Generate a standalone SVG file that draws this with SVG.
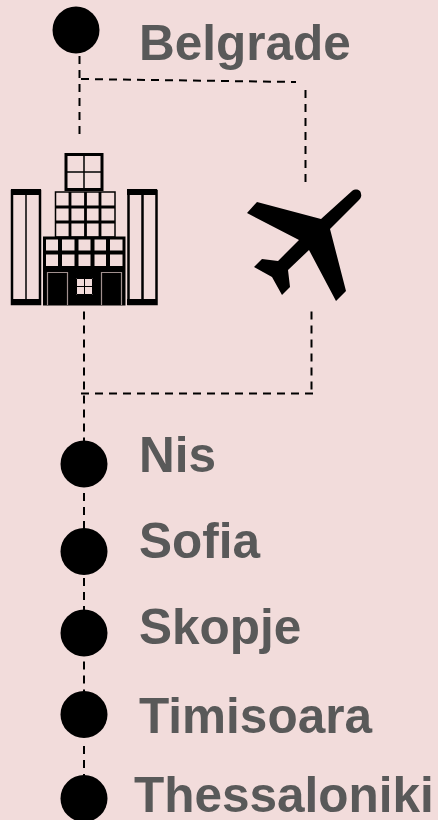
<svg xmlns="http://www.w3.org/2000/svg" width="438" height="820" viewBox="0 0 438 820">
<style>
.lbl{font-family:"Liberation Sans",Arial,sans-serif;font-weight:700;font-size:49.500px;fill:#595959}
.dash{fill:none;stroke:#000;stroke-width:2;stroke-dasharray:8 6}
.dot{fill:#000}
.b{fill:none;stroke:#000}
</style>
<rect width="438" height="820" fill="#f2dcdb"/>
<g id="connectors">
<path class="dash" d="M79.500 56V135"/>
<path class="dash" d="M81 79L296 82"/>
<path class="dash" d="M305.500 90V183"/>
<path class="dash" d="M84 311.500V445"/>
<path class="dash" d="M81 393.500H313"/>
<path class="dash" d="M311.500 311.500V393"/>
<path class="dash" d="M84 493V530"/>
<path class="dash" d="M84 578V612"/>
<path class="dash" d="M84 661.500V695"/>
<path class="dash" d="M84 746V778"/>
</g>
<g id="belgrade"><circle class="dot" cx="76" cy="30" r="23.500"/><text class="lbl" x="139" y="60">Belgrade</text></g>
<g id="building">
<g class="b">
<rect x="66" y="154.500" width="36" height="35" stroke-width="3"/>
<path d="M84 154V189M66 172H102" stroke-width="1.500"/>
<rect x="55.500" y="192" width="59.500" height="45" stroke-width="1.500"/>
<path d="M70 192V237M85.500 192V237M100 192V237M55 207H115M55 222H115" stroke-width="2.800"/>
<rect x="44.500" y="238" width="79.500" height="66" stroke-width="3"/>
<path d="M60 237V267M76.500 237V267M92.500 237V267M108 237V267M44 252.500H124" stroke-width="4"/>
<rect x="12" y="191" width="28" height="113" stroke-width="2.500"/>
<path d="M26 194V300" stroke-width="1.500"/>
<rect x="128.500" y="191" width="28" height="113" stroke-width="2.500"/>
<path d="M142.500 194V300" stroke-width="2.500"/>
</g>
<path d="M11 189H41V195H11ZM127 189H157V195H127ZM11 299H41V305H11ZM127 299H157V305H127Z"/>
<path d="M44 266H124V305H44ZM76 278V295H93V278Z" fill-rule="evenodd"/>
<path d="M76.500 278.500V294.500H92.500V278.500ZM84.500 278V295M76 286.500H93" fill="#f2dcdb" stroke="#000" stroke-width="1"/>
<path d="M47.500 305V272.500H67.500V305M101.500 305V272.500H121.500V305" fill="none" stroke="#a08f8e" stroke-width="1.200"/>
</g>
<g id="plane">
<path d="M352 191C356 188 361 190 361 194C362 197 360 199 358 201L330 229L346 291L336 301L309 250L288 270L290 287L282 295L272 277L254 267L262 259L278 261L299 240L247 213L257 202L321 219Z"/>
</g>
<g id="nis"><circle class="dot" cx="84" cy="464" r="23.500"/><text class="lbl" x="139" y="472">Nis</text></g>
<g id="sofia"><circle class="dot" cx="84" cy="551.500" r="23.500"/><text class="lbl" x="139" y="558">Sofia</text></g>
<g id="skopje"><circle class="dot" cx="84" cy="633" r="23.500"/><text class="lbl" x="139" y="644">Skopje</text></g>
<g id="timisoara"><circle class="dot" cx="84" cy="714.500" r="23.500"/><text class="lbl" x="139" y="733">Timisoara</text></g>
<g id="thessaloniki"><circle class="dot" cx="84" cy="798.500" r="23.500"/><text class="lbl" x="134" y="812">Thessaloniki</text></g>
</svg>
